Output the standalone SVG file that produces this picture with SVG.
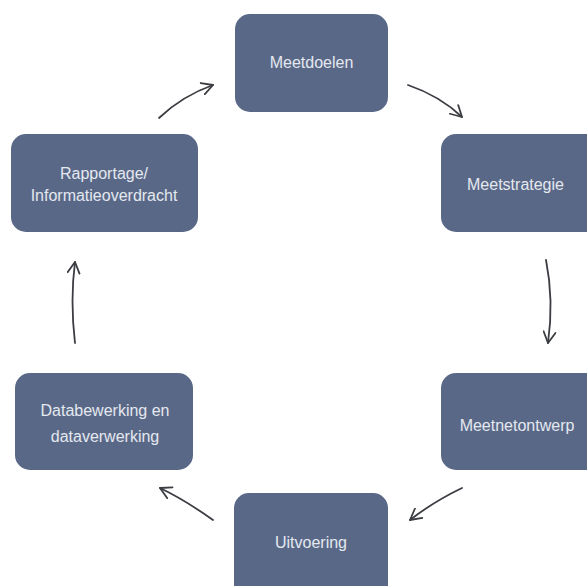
<svg xmlns="http://www.w3.org/2000/svg" width="587" height="586" viewBox="0 0 587 586">
<style>
.box{fill:#5a6888;}
.lbl{font-family:"Liberation Sans",Arial,sans-serif;font-size:16px;fill:#e4e8ef;text-anchor:middle;}
.con{fill:none;stroke:#3b3d42;stroke-width:1.8;stroke-linecap:round;marker-end:url(#arr);}
</style>
<defs>
<marker id="arr" viewBox="0 0 14 14" refX="12" refY="7" markerWidth="14" markerHeight="14" markerUnits="userSpaceOnUse" orient="auto">
<path d="M1,1 L12,7 L1,13" fill="none" stroke="#3b3d42" stroke-width="1.8" stroke-linecap="round" stroke-linejoin="round"/>
</marker>
</defs>
<rect width="587" height="586" fill="#ffffff"/>
<g id="n-meetdoelen"><rect class="box" x="235" y="14" width="153" height="98" rx="15"/><text class="lbl" x="311.5" y="68">Meetdoelen</text></g>
<g id="n-meetstrategie"><rect class="box" x="441" y="134" width="160" height="98" rx="15"/><text class="lbl" x="515.5" y="190">Meetstrategie</text></g>
<g id="n-meetnetontwerp"><rect class="box" x="441" y="373" width="160" height="97" rx="15"/><text class="lbl" x="517" y="431">Meetnetontwerp</text></g>
<g id="n-uitvoering"><rect class="box" x="234" y="493" width="154" height="110" rx="15"/><text class="lbl" x="311" y="548">Uitvoering</text></g>
<g id="n-databewerking"><rect class="box" x="15" y="373" width="178" height="97" rx="15"/><text class="lbl" x="105" y="416">Databewerking en</text><text class="lbl" x="105" y="442">dataverwerking</text></g>
<g id="n-rapportage"><rect class="box" x="11" y="134" width="187" height="98" rx="15"/><text class="lbl" x="104" y="179">Rapportage/</text><text class="lbl" x="104" y="201">Informatieoverdracht</text></g>
<g id="connectors">
<path class="con" d="M159,118 Q182,96 213,85"/>
<path class="con" d="M408,85 Q440,96 462,117"/>
<path class="con" d="M546,260 Q554,300 548,343"/>
<path class="con" d="M462,488 Q433,502 410,520"/>
<path class="con" d="M213,520 Q185,500 160,488"/>
<path class="con" d="M75,343 Q70,300 75,262"/>
</g>
</svg>
